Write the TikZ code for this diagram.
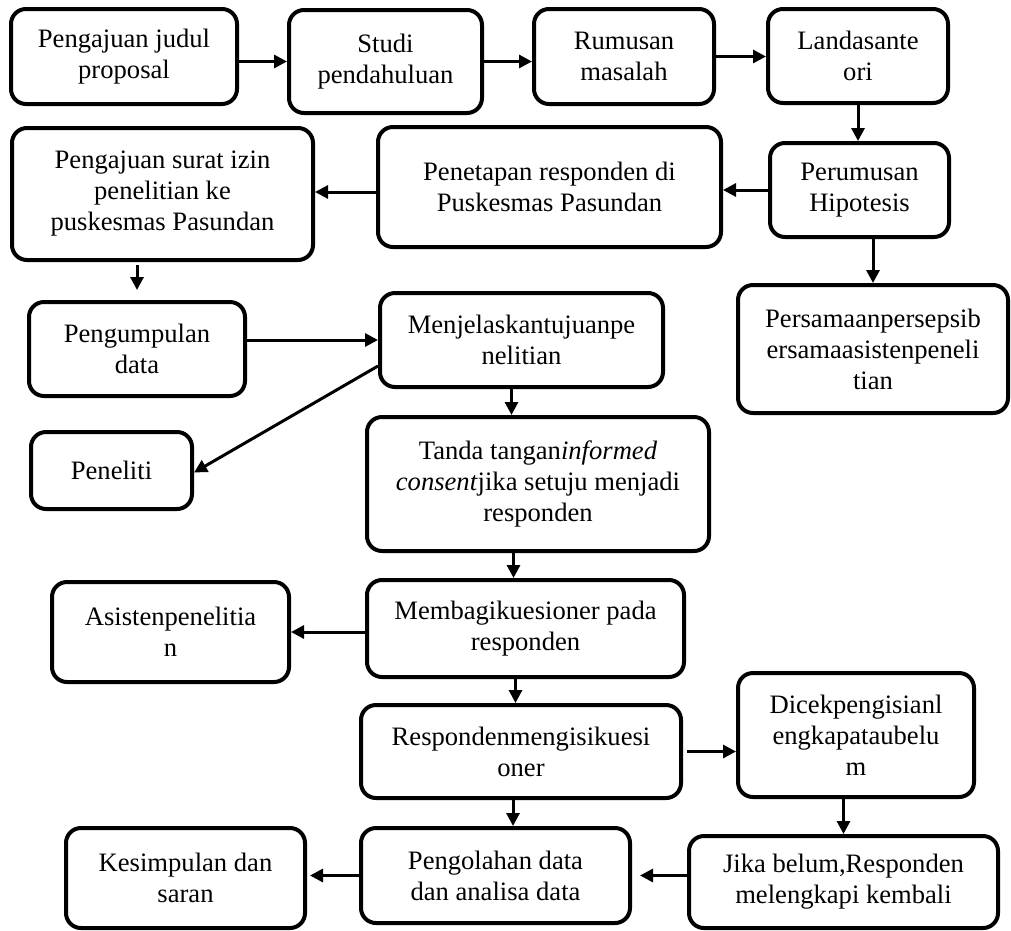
\documentclass[tikz,border=0pt]{standalone}
\usepackage{fontspec}
\setmainfont{Liberation Serif}
\usetikzlibrary{arrows.meta}

\tikzset{
	box/.style = {draw, line width = 4pt, rounded corners = 15pt, align = center, inner sep = 2pt, font = \fontsize{26.6}{31}\selectfont},
	arr/.style = {line width = 3pt, -{Triangle[length = 13pt, width = 13pt]}}
}

\begin{document}
\begin{tikzpicture}[x = 1pt, y = -1pt]
	\useasboundingbox (0,0) rectangle (1011,930);

	\node [box, minimum width = 226pt, minimum height = 95pt] (judul) at (124,56.5) {Pengajuan judul\\proposal};
	\node [box, minimum width = 193pt, minimum height = 103pt] (studi) at (385.5,61.5) {Studi\\pendahuluan};
	\node [box, minimum width = 180pt, minimum height = 95pt] (rumusan) at (624,56.5) {Rumusan\\masalah};
	\node [box, minimum width = 180pt, minimum height = 94pt] (landasan) at (858,56) {Landasante\\ori};
	\node [box, minimum width = 179pt, minimum height = 94pt] (hipotesis) at (859.5,190) {Perumusan\\Hipotesis};
	\node [box, minimum width = 343pt, minimum height = 120pt] (penetapan) at (549.5,187) {Penetapan responden di\\Puskesmas Pasundan};
	\node [box, minimum width = 301pt, minimum height = 132pt] (izin) at (162.5,194) {Pengajuan surat izin\\penelitian ke\\puskesmas Pasundan};
	\node [box, minimum width = 270pt, minimum height = 128pt] (persepsi) at (873,349) {Persamaanpersepsib\\ersamaasistenpeneli\\tian};
	\node [box, minimum width = 216pt, minimum height = 94pt] (pengumpulan) at (137,349) {Pengumpulan\\data};
	\node [box, minimum width = 283pt, minimum height = 94pt] (tujuan) at (521.5,340) {Menjelaskantujuanpe\\nelitian};
	\node [box, minimum width = 161pt, minimum height = 77pt] (peneliti) at (111.5,470.5) {Peneliti};
	\node [box, minimum width = 342pt, minimum height = 134pt] (consent) at (538,484) {Tanda tangan\textit{informed}\\\textit{consent}jika setuju menjadi\\responden};
	\node [box, minimum width = 317pt, minimum height = 97pt] (membagi) at (525.5,628.5) {Membagikuesioner pada\\responden};
	\node [box, minimum width = 237pt, minimum height = 100pt] (asisten) at (170.5,632) {Asistenpenelitia\\n};
	\node [box, minimum width = 320pt, minimum height = 93pt] (mengisi) at (521,751.5) {Respondenmengisikuesi\\oner};
	\node [box, minimum width = 236pt, minimum height = 124pt] (dicek) at (856,735) {Dicekpengisianl\\engkapataubelu\\m};
	\node [box, minimum width = 269pt, minimum height = 95pt] (olah) at (495.5,875.5) {Pengolahan data\\dan analisa data};
	\node [box, minimum width = 309pt, minimum height = 92pt] (lengkapi) at (843.5,882) {Jika belum,Responden\\melengkapi kembali};
	\node [box, minimum width = 239pt, minimum height = 100pt] (simpulan) at (185.5,878) {Kesimpulan dan\\saran};

	\begin{scope}[arr]
		\draw (judul.east |- studi.west) -- (studi.west);
		\draw (studi.east) -- (studi.east -| rumusan.west);
		\draw (rumusan.east) -- (rumusan.east -| landasan.west);
		\draw (landasan.south) -- (landasan.south |- hipotesis.north);
		\draw (hipotesis.west) -- (hipotesis.west -| penetapan.east);
		\draw ([yshift = -5pt]penetapan.west) -- ([yshift = -5pt]penetapan.west -| izin.east);
		\draw (hipotesis.south -| persepsi.north) -- (persepsi.north);
		\draw [shorten < = 3pt, shorten > = 10pt] (izin.south -| pengumpulan.north) -- (pengumpulan.north);
		\draw (tujuan.west -| pengumpulan.east) -- (tujuan.west);
		\draw ([yshift = -26pt]tujuan.west) -- ([yshift = -2pt]peneliti.east);
		\draw ([xshift = -10pt]tujuan.south) -- ([xshift = -10pt]tujuan.south |- consent.north);
		\draw ([xshift = -12pt]membagi.north |- consent.south) -- ([xshift = -12pt]membagi.north);
		\draw (membagi.west |- asisten.east) -- (asisten.east);
		\draw ([xshift = -10pt]membagi.south) -- ([xshift = -10pt]membagi.south |- mengisi.north);
		\draw [shorten < = 4pt] (mengisi.east) -- (mengisi.east -| dicek.west);
		\draw ([xshift = -8pt]mengisi.south) -- ([xshift = -8pt]mengisi.south |- olah.north);
		\draw (dicek.south -| lengkapi.north) -- (lengkapi.north);
		\draw [shorten > = 8pt] (lengkapi.west |- olah.east) -- (olah.east);
		\draw [shorten > = 3pt] (olah.west) -- (olah.west -| simpulan.east);
	\end{scope}
\end{tikzpicture}
\end{document}
